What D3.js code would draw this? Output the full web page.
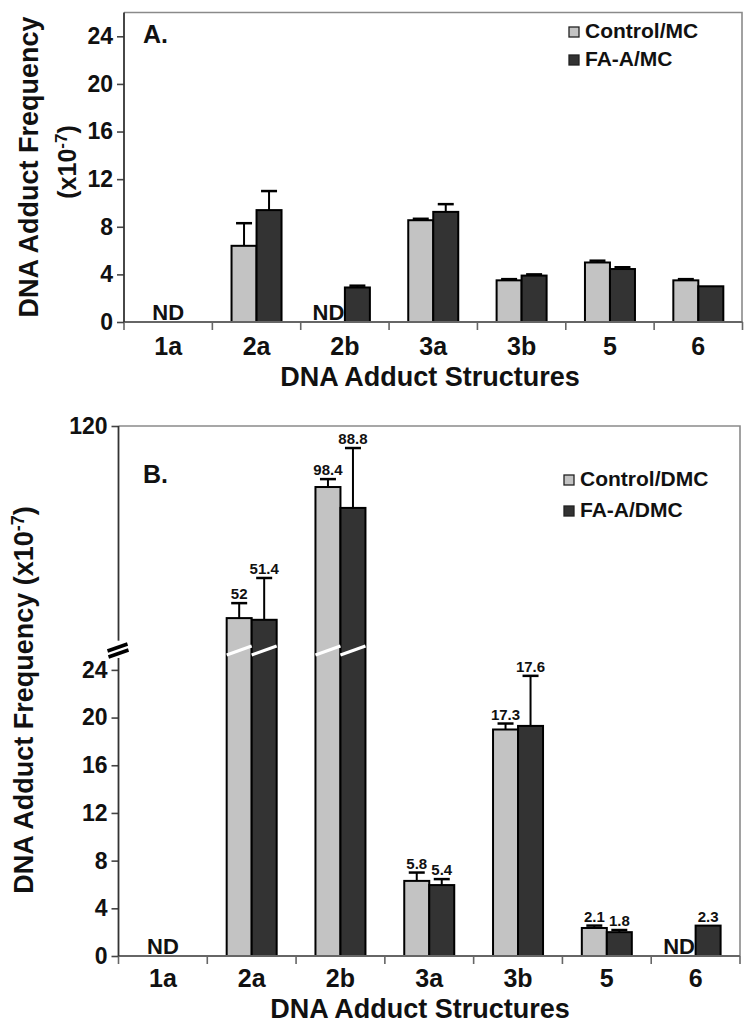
<!DOCTYPE html>
<html><head><meta charset="utf-8">
<script src="https://cdn.jsdelivr.net/npm/d3@7"></script>
<style>
body{margin:0;background:#fff;}
svg text{font-family:"Liberation Sans",Arial,Helvetica,sans-serif;font-weight:bold;fill:#111;}
</style></head><body>
<svg id="chart" width="751" height="1028"></svg>
<script>
// ---------- data ----------
const categories = ["1a","2a","2b","3a","3b","5","6"];
const seriesA = ["Control/MC","FA-A/MC"];
const seriesB = ["Control/DMC","FA-A/DMC"];
// Panel A (x10^-7); null = not detected
const controlMC   = [null, 6.4, null, 8.55, 3.5, 5.0, 3.5];
const controlMCSD = [null, 1.9, null, 0.12, 0.1, 0.15, 0.1];
const faMC        = [null, 9.4, 2.9, 9.25, 3.9, 4.45, 3.0];
const faMCSD      = [null, 1.6, 0.15, 0.65, 0.1, 0.15, 0];
// Panel B (x10^-7)
const controlDMC   = [null, 52, 98.4, 6.3, 19.0, 2.35, null];
const controlDMCSD = [null, 5.3, 2.8, 0.7, 0.5, 0.2, null];
const faDMC        = [null, 51.4, 91.0, 5.95, 19.3, 2.0, 2.55];
const faDMCSD      = [null, 14.8, 21.2, 0.5, 4.2, 0.18, 0];
const controlDMCLabels = ["", "52", "98.4", "5.8", "17.3", "2.1", ""];
const faDMCLabels      = ["", "51.4", "88.8", "5.4", "17.6", "1.8", "2.3"];
const ticksA = [0,4,8,12,16,20,24];
const ticksBLower = [0,4,8,12,16,20,24];
const ticksBUpper = [120];

const colors = ["#c3c3c3", "#333333"];
const svg = d3.select("#chart");

function drawPanel(opt){
  const g = svg.append("g");
  const x0 = d3.scaleBand().domain(categories).range(opt.xRange).paddingInner(0).paddingOuter(0);
  const x1 = d3.scaleBand().domain([0,1]).range([-25, 25]);
  const y = opt.y;
  const y0 = y(0);
  const left = opt.xRange[0], right = opt.xRange[1];

  // frame (top + right)
  g.append("path")
    .attr("d", `M${left},${opt.top}H${opt.frameRight}V${y0}`)
    .attr("fill","none").attr("stroke","#8a8a8a").attr("stroke-width",1.6);

  // bars
  const rows = [];
  categories.forEach((c,i)=>{
    opt.values.forEach((vals,s)=>{
      rows.push({cat:c, s, v: vals[i], sd: opt.sds[s][i], lab: opt.labels ? opt.labels[s][i] : ""});
    });
  });
  const present = rows.filter(d=>d.v!==null);
  const bx = d=> x0(d.cat) + x0.bandwidth()/2 + x1(d.s);
  const bw = x1.bandwidth();

  g.selectAll("rect.bar").data(present).join("rect")
    .attr("class","bar")
    .attr("x", bx).attr("width", bw)
    .attr("y", d=>y(d.v)).attr("height", d=>y0 - y(d.v))
    .attr("fill", d=>colors[d.s]).attr("stroke","#000").attr("stroke-width",2);

  // error bars (upper only)
  const withErr = present.filter(d=>d.sd>0);
  g.selectAll("line.err").data(withErr).join("line")
    .attr("x1", d=>bx(d)+bw/2).attr("x2", d=>bx(d)+bw/2)
    .attr("y1", d=>y(d.v)).attr("y2", d=>y(d.v+d.sd))
    .attr("stroke","#000").attr("stroke-width",2);
  g.selectAll("line.cap").data(withErr).join("line")
    .attr("x1", d=>bx(d)+bw/2-8).attr("x2", d=>bx(d)+bw/2+8)
    .attr("y1", d=>y(d.v+d.sd)).attr("y2", d=>y(d.v+d.sd))
    .attr("stroke","#000").attr("stroke-width",2.5);

  // break lines across tall bars
  if (opt.breakAt !== undefined){
    const yb = y(opt.breakAt);
    g.selectAll("line.brk").data(present.filter(d=>d.v>opt.breakAt)).join("line")
      .attr("x1", d=>bx(d)).attr("x2", d=>bx(d)+bw)
      .attr("y1", yb+3).attr("y2", yb-6)
      .attr("stroke","#fff").attr("stroke-width",3);
  }

  // value labels
  if (opt.labels){
    g.selectAll("text.val").data(present.filter(d=>d.lab)).join("text")
      .attr("x", d=>bx(d)+bw/2)
      .attr("y", d=>y(d.v+(d.sd||0))-4)
      .attr("text-anchor","middle").attr("font-size",15).text(d=>d.lab);
  }

  // ND labels
  categories.forEach((c,i)=>{
    const missing = opt.values.map(v=>v[i]===null);
    if (missing[0] && missing[1]){
      g.append("text").attr("x", x0(c)+x0.bandwidth()/2).attr("y", y0-2)
        .attr("text-anchor","middle").attr("font-size",22).text("ND");
    } else if (missing[0]){
      g.append("text").attr("x", x0(c)+x0.bandwidth()/2 + x1(0) + bw/2 - 4).attr("y", y0-2)
        .attr("text-anchor","middle").attr("font-size",22).text("ND");
    }
  });

  // x axis
  const xAxisG = g.append("g").attr("transform",`translate(0,${y0})`);
  xAxisG.append("line").attr("x1",left).attr("x2",right).attr("y1",0).attr("y2",0)
    .attr("stroke","#666").attr("stroke-width",1.8);
  xAxisG.selectAll("line.xt").data(d3.range(categories.length+1)).join("line")
    .attr("x1", i=> left + i*x0.step()).attr("x2", i=> left + i*x0.step())
    .attr("y1",0).attr("y2",8).attr("stroke","#666").attr("stroke-width",1.6);
  xAxisG.selectAll("text.xl").data(categories).join("text")
    .attr("x", c=>x0(c)+x0.bandwidth()/2).attr("y", opt.catDy)
    .attr("text-anchor","middle").attr("font-size",25).text(c=>c);

  // y axis
  opt.yAxes.forEach(ax=>{
    const a = g.append("g").attr("transform",`translate(${left},0)`)
      .call(d3.axisLeft(y).tickValues(ax.ticks).tickSize(7).tickSizeOuter(0).tickPadding(4));
    a.select(".domain").remove();
    a.selectAll(".tick line").attr("stroke","#444").attr("stroke-width",1.6);
    a.selectAll(".tick text").attr("font-size",23).attr("fill","#111")
      .style("font-family",'"Liberation Sans",Arial,sans-serif').style("font-weight","bold");
    g.append("line").attr("x1",left).attr("x2",left)
      .attr("y1", y(ax.from)).attr("y2", ax.to===null ? opt.top : y(ax.to))
      .attr("stroke","#333").attr("stroke-width",1.8);
  });

  // axis break mark
  if (opt.breakAt !== undefined){
    const yb = y(opt.breakAt);
    g.append("line").attr("x1",left-11).attr("y1",yb-1).attr("x2",left+9).attr("y2",yb-8)
      .attr("stroke","#000").attr("stroke-width",3.5);
    g.append("line").attr("x1",left-10).attr("y1",yb+5).attr("x2",left+10).attr("y2",yb-2)
      .attr("stroke","#000").attr("stroke-width",3.5);
  }

  // titles
  g.append("text").attr("x", opt.xTitleX).attr("y", opt.xTitleY)
    .attr("text-anchor","middle").attr("font-size",27).text("DNA Adduct Structures");

  g.append("text").attr("x", 143).attr("y", opt.panelLabelY)
    .attr("font-size",25).text(opt.panelLabel);

  // legend
  const lg = g.selectAll("g.leg").data(opt.series).join("g")
    .attr("transform",(d,i)=>`translate(${opt.legX},${opt.legY + i*opt.legStep})`);
  lg.append("rect").attr("x",0).attr("y",-11).attr("width",10).attr("height",10)
    .attr("fill",(d,i)=>colors[i]).attr("stroke","#222").attr("stroke-width",1.3);
  lg.append("text").attr("x",16).attr("y",0).attr("font-size",21).text(d=>d);
  return g;
}

// Panel A
const yA = d3.scaleLinear().domain([0,26]).range([322, 12.5]);
drawPanel({
  y: yA, xRange:[124, 742.5], frameRight: 742, top: 12.5,
  values:[controlMC, faMC], sds:[controlMCSD, faMCSD],
  yAxes:[{ticks:ticksA, from:0, to:null}],
  catDy: 33, xTitleX: 430, xTitleY: 386,
  panelLabel:"A.", panelLabelY: 43,
  series: seriesA, legX: 569, legY: 38, legStep: 28
});
// Y title A
svg.append("text").attr("transform","translate(38,167) rotate(-90)")
  .attr("text-anchor","middle").attr("font-size",27).text("DNA Adduct Frequency");
const tA = svg.append("text").attr("transform","translate(76,162) rotate(-90)")
  .attr("text-anchor","middle").attr("font-size",25);
tA.append("tspan").text("(x10");
tA.append("tspan").attr("font-size",17).attr("dy",-9).text("-7");
tA.append("tspan").attr("dy",9).text(")");

// Panel B (broken axis)
const yB = d3.scaleLinear().domain([0, 25.5, 40, 120]).range([956, 652, 652, 426]);
drawPanel({
  y: yB, xRange:[118.5, 740], frameRight: 740, top: 426,
  values:[controlDMC, faDMC], sds:[controlDMCSD, faDMCSD],
  labels:[controlDMCLabels, faDMCLabels],
  breakAt: 25.5,
  yAxes:[{ticks:ticksBLower, from:0, to:25}, {ticks:ticksBUpper, from:44, to:120}],
  catDy: 31, xTitleX: 420, xTitleY: 1018,
  panelLabel:"B.", panelLabelY: 483,
  series: seriesB, legX: 564, legY: 486, legStep: 31
});
const tB = svg.append("text").attr("transform","translate(33,700) rotate(-90)")
  .attr("text-anchor","middle").attr("font-size",27);
tB.append("tspan").text("DNA Adduct Frequency (x10");
tB.append("tspan").attr("font-size",18).attr("dy",-9).text("-7");
tB.append("tspan").attr("dy",9).text(")");
</script>
</body></html>
